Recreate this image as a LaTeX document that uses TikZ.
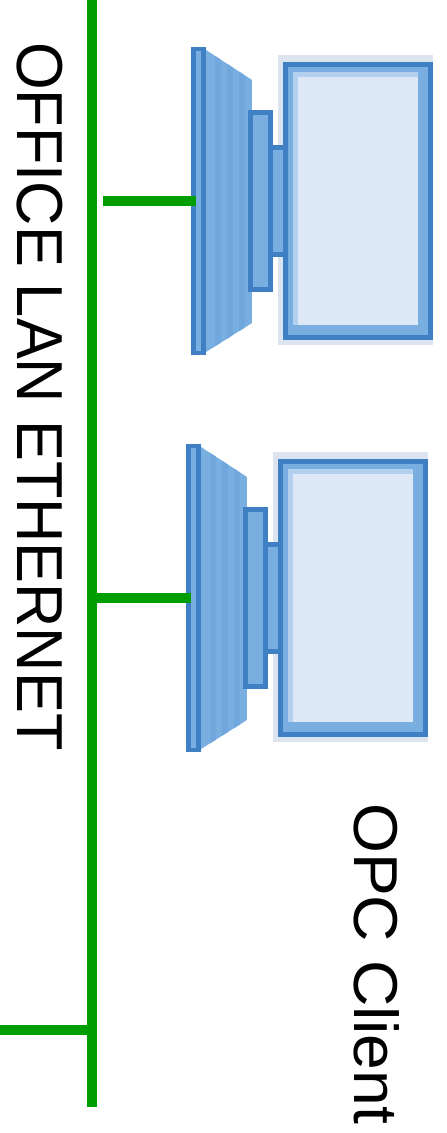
\documentclass[tikz,border=0pt]{standalone}
\usepackage{fontspec}
\setmainfont{Liberation Sans}
\definecolor{lanGreen}{HTML}{009E00}
\definecolor{pcEdge}{HTML}{3F80C4}
\definecolor{pcBody}{HTML}{78AEE0}
\definecolor{pcStripe}{HTML}{70A7DC}
\definecolor{pcRim}{HTML}{B4D0EE}
\definecolor{pcHalo}{HTML}{DCE4F0}
\definecolor{pcScreen}{HTML}{DCE8F6}
\tikzset{
  lanline/.style={draw=lanGreen, line width=10pt},
  pcpart/.style={draw=pcEdge, fill=pcBody, line width=4.5pt},
  lanlabel/.style={rotate=-90, inner sep=0pt, text=black},
  pics/monitor/.style={code={
    % Soft edge behind the screen
    \fill[pcHalo] (87,8) rectangle (242,298);
    % Foot of the monitor
    \begin{scope}
      \clip (0,0) -- (15,0) -- (15,3) -- (61,33) -- (61,276) -- (15,305) -- (15,308) -- (0,308) -- cycle;
      \fill[pcBody] (0,0) rectangle (61,308);
      \foreach \stripex in {24,36,48}
        \fill[pcStripe] (\stripex,0) rectangle (\stripex+6,308);
    \end{scope}
    \draw[pcEdge, line width=5pt] (2.5,0) -- (2.5,308);
    \draw[pcEdge, line width=5pt] (12.5,0) -- (12.5,308);
    \draw[pcEdge, line width=4pt] (0,2) -- (15,2);
    \draw[pcEdge, line width=4pt] (0,306) -- (15,306);
    % Neck
    \filldraw[pcpart] (59.5,65.5) rectangle (79.5,242.5);
    \filldraw[pcpart] (80,100.5) rectangle (96,207.5);
    % Screen
    \fill[pcEdge] (92,15) rectangle (242,293);
    \fill[pcBody] (97,20) rectangle (237,288);
    \fill[pcRim] (102,25) rectangle (227,278);
    \fill[pcScreen] (107,30) rectangle (227,278);
  }}
}
\begin{document}
\begin{tikzpicture}[x=1pt, y=-1pt]
  \useasboundingbox (0,0) rectangle (447,1133);

  % Two client monitors
  \pic (pcOne) at (191,47) {monitor};
  \pic (pcTwo) at (186,444) {monitor};

  % Bus ends and taps
  \coordinate (busTop) at (92.3,0);
  \coordinate (busEnd) at (92.3,1107);
  \coordinate (tapOne) at (92.3,1030);
  \coordinate (tapLeft) at (0,1030);
  \coordinate (stubOne) at (103,200.5);
  \coordinate (pcOneIn) at (196,200.5);
  \coordinate (stubTwo) at (92.3,597.5);
  \coordinate (pcTwoIn) at (191,597.5);

  % Office bus
  \draw[lanline] (busTop) -- (busEnd);
  \draw[lanline] (tapLeft) -- (tapOne);
  \draw[lanline] (stubTwo) -- (pcTwoIn);
  \draw[lanline] (stubOne) -- (pcOneIn);

  % Labels
  \node[lanlabel, anchor=south west, font=\fontsize{65}{65}\selectfont\addfontfeature{FakeStretch=0.943}] (lanText) at (17,42) {OFFICE LAN ETHERNET};
  \node[lanlabel, anchor=south west, font=\fontsize{62}{62}\selectfont\addfontfeature{FakeStretch=1.035}] (opcText) at (354,803) {OPC Client};
\end{tikzpicture}
\end{document}
